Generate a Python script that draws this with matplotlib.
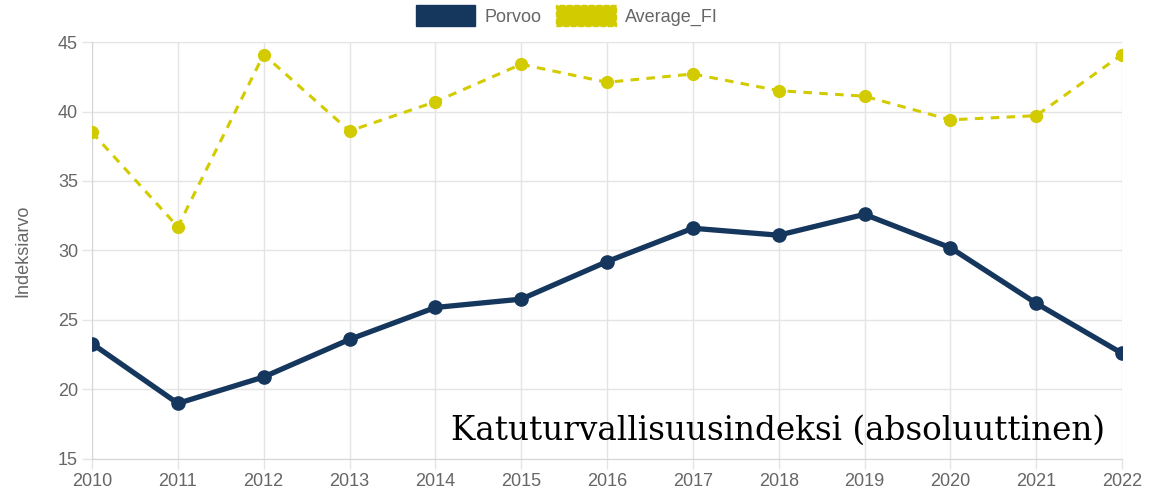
import numpy as np
import matplotlib.pyplot as plt
from matplotlib.patches import Patch

plt.rcParams['font.family'] = ['Liberation Sans', 'DejaVu Sans']

# data
years = [2010, 2011, 2012, 2013, 2014, 2015, 2016, 2017, 2018, 2019, 2020, 2021, 2022]
porvoo = [23.3, 19.0, 20.9, 23.6, 25.9, 26.5, 29.2, 31.6, 31.1, 32.6, 30.2, 26.2, 22.6]
average_fi = [38.5, 31.7, 44.1, 38.6, 40.7, 43.4, 42.1, 42.7, 41.5, 41.1, 39.4, 39.7, 44.1]
y_ticks = [15, 20, 25, 30, 35, 40, 45]

navy = '#15365d'
yellow = '#d2cb00'
grid_c = '#e4e4e4'
text_c = '#666666'

fig = plt.figure(figsize=(11.66, 4.93), dpi=100)
ax = fig.add_axes([0.0789, 0.069, 0.8834, 0.8458])

ax.plot(years, average_fi, color=yellow, lw=2.2, ls=(0, (2.8, 2.4)),
        marker='o', ms=8.5, zorder=3)
ax.plot(years, porvoo, color=navy, lw=3.8, marker='o', ms=9.5, zorder=4)

ax.set_xlim(years[0], years[-1])
ax.set_ylim(15, 45)
ax.set_xticks(years)
ax.set_yticks(y_ticks)
ax.grid(True, color=grid_c, lw=1)
ax.set_axisbelow(True)
for s in ax.spines.values():
    s.set_visible(False)
ax.spines['left'].set_visible(True)
ax.spines['bottom'].set_visible(True)
ax.spines['left'].set_color('#d5d5d5')
ax.spines['bottom'].set_color('#d5d5d5')
ax.tick_params(axis='both', colors=grid_c, length=7, width=1, labelcolor=text_c,
               labelsize=13)
ax.tick_params(axis='x', pad=3)
ax.tick_params(axis='y', pad=3)
ax.set_ylabel('Indeksiarvo', color=text_c, fontsize=13, labelpad=19)

ax.text(0.9835, 0.046, 'Katuturvallisuusindeksi (absoluuttinen)', transform=ax.transAxes,
        ha='right', va='baseline', fontsize=23.5, family='DejaVu Serif', color='black')

handles = [Patch(facecolor=navy, edgecolor=navy, label='Porvoo'),
           Patch(facecolor=yellow, edgecolor=yellow, ls='--', label='Average_FI')]
fig.legend(handles=handles, loc='upper center', bbox_to_anchor=(0.486, 1.022), ncol=2,
           frameon=False, fontsize=13, handlelength=3.3, handleheight=1.35,
           columnspacing=0.8, handletextpad=0.5, labelcolor=text_c)

plt.savefig('out.png', dpi=100)
